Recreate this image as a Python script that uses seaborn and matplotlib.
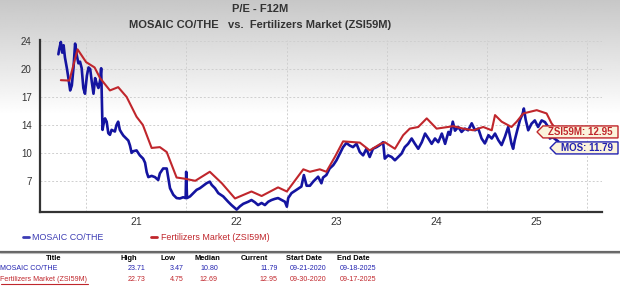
import numpy as np
import pandas as pd
import matplotlib
matplotlib.use("Agg")
import matplotlib.pyplot as plt
from matplotlib.patches import Polygon
from matplotlib.lines import Line2D
import seaborn as sns

# ---------------- data ----------------
mos_dates = [
    '2020-09-21', '2020-09-24', '2020-09-30', '2020-10-05', '2020-10-10', '2020-10-15', '2020-10-22',
    '2020-10-28', '2020-11-03', '2020-11-09', '2020-11-15', '2020-11-21', '2020-11-27', '2020-12-03',
    '2020-12-09', '2020-12-15', '2020-12-21', '2020-12-27', '2021-01-03', '2021-01-09', '2021-01-15',
    '2021-01-21', '2021-01-27', '2021-02-02', '2021-02-08', '2021-02-14', '2021-02-20', '2021-02-24',
    '2021-03-01', '2021-03-04', '2021-03-10', '2021-03-16', '2021-03-22', '2021-03-28', '2021-04-03',
    '2021-04-15', '2021-04-21', '2021-04-27', '2021-05-03', '2021-05-10', '2021-05-16', '2021-05-22',
    '2021-05-28', '2021-06-03', '2021-06-09', '2021-06-15', '2021-06-21', '2021-07-03', '2021-07-15',
    '2021-07-27', '2021-08-03', '2021-08-09', '2021-08-15', '2021-08-27', '2021-09-08', '2021-09-20',
    '2021-09-26', '2021-10-08', '2021-10-21', '2021-10-27', '2021-11-02', '2021-11-14', '2021-11-26',
    '2021-12-08', '2021-12-20', '2021-12-29', '2021-12-31', '2022-01-03', '2022-01-14', '2022-01-26',
    '2022-02-07', '2022-02-19', '2022-03-03', '2022-03-15', '2022-03-27', '2022-04-03', '2022-04-15',
    '2022-04-27', '2022-05-15', '2022-06-02', '2022-06-14', '2022-07-03', '2022-07-15', '2022-07-27',
    '2022-08-14', '2022-08-26', '2022-09-07', '2022-09-19', '2022-10-02', '2022-10-14', '2022-10-26',
    '2022-11-07', '2022-11-19', '2022-12-01', '2022-12-14', '2022-12-26', '2023-01-02', '2023-01-07',
    '2023-01-19', '2023-02-06', '2023-02-24', '2023-03-05', '2023-03-15', '2023-03-27', '2023-04-08',
    '2023-04-20', '2023-04-26', '2023-05-08', '2023-05-14', '2023-05-26', '2023-06-07', '2023-06-20',
    '2023-07-02', '2023-07-14', '2023-07-26', '2023-08-07', '2023-08-19', '2023-08-31', '2023-09-13',
    '2023-09-25', '2023-10-07', '2023-10-19', '2023-10-31', '2023-11-12', '2023-11-25', '2023-12-07',
    '2023-12-19', '2023-12-25', '2024-01-06', '2024-01-19', '2024-01-31', '2024-02-12', '2024-02-24',
    '2024-03-07', '2024-03-19', '2024-04-01', '2024-04-13', '2024-04-25', '2024-05-08', '2024-05-20',
    '2024-06-01', '2024-06-13', '2024-06-25', '2024-07-07', '2024-07-20', '2024-08-01', '2024-08-13',
    '2024-08-19', '2024-08-29', '2024-09-06', '2024-09-18', '2024-09-30', '2024-10-12', '2024-10-24',
    '2024-11-06', '2024-11-18', '2024-11-30', '2024-12-12', '2024-12-24', '2025-01-06', '2025-01-18',
    '2025-01-30', '2025-02-11', '2025-02-23', '2025-03-07', '2025-03-19', '2025-03-25', '2025-03-31',
    '2025-04-06', '2025-04-12', '2025-04-21', '2025-05-01', '2025-05-11', '2025-05-15', '2025-05-22',
    '2025-05-31', '2025-06-12', '2025-06-24', '2025-07-06', '2025-07-19', '2025-07-31', '2025-08-12',
    '2025-08-18', '2025-08-28', '2025-09-18',
]
mos_pe = [
    22.4, 23.0, 23.9, 22.6, 23.5, 22.0, 20.7,
    19.4, 18.0, 18.6, 20.7, 23.7, 22.3, 21.3,
    21.5, 20.7, 18.3, 17.6, 19.8, 20.8, 20.6,
    19.0, 17.6, 19.5, 18.8, 18.3, 19.2, 20.7,
    13.2, 13.8, 14.6, 14.2, 12.8, 12.6, 13.2,
    13.0, 13.8, 14.2, 13.2, 12.8, 12.5, 12.3,
    12.1, 11.9, 11.3, 10.4, 10.6, 10.7, 10.1,
    9.7, 9.2, 8.05, 7.45, 7.6, 7.45, 7.1,
    7.9, 8.5, 8.5, 7.3, 6.1, 5.3, 4.9,
    4.85, 5.0, 4.9, 8.1, 4.9, 5.1, 5.5,
    5.9, 6.1, 6.4, 6.7, 6.9, 6.5, 6.1,
    5.5, 5.1, 4.45, 4.05, 3.5, 3.9, 4.2,
    4.45, 4.66, 4.4, 4.05, 4.3, 4.05, 4.45,
    4.66, 4.8, 4.9, 4.66, 4.45, 3.85, 4.9,
    5.5, 5.9, 6.3, 7.7, 6.4, 6.4, 6.9,
    7.3, 7.5, 6.7, 7.4, 7.7, 8.5, 8.9,
    9.5, 10.3, 11.1, 11.6, 11.3, 11.1, 11.5,
    10.5, 10.1, 10.9, 9.9, 10.9, 11.1, 11.35,
    11.7, 9.7, 10.1, 9.9, 9.5, 9.9, 10.3,
    11.1, 11.5, 12.15, 11.5, 10.9, 11.7, 12.75,
    12.15, 11.5, 12.15, 11.7, 12.75, 11.5, 12.95,
    12.6, 14.2, 13.1, 13.55, 12.95, 13.35, 13.15,
    14.0, 13.15, 13.35, 12.15, 11.55, 12.55, 12.15,
    12.75, 11.95, 11.35, 12.35, 13.55, 12.55, 11.5,
    10.9, 11.95, 13.15, 14.4, 15.2, 15.8, 14.4,
    13.15, 13.95, 14.35, 13.55, 14.35, 14.15, 13.55,
    12.15, 12.3, 11.79,
]

zsi_dates = [
    '2020-09-30', '2020-10-31', '2020-11-30', '2020-12-31', '2021-01-31', '2021-02-20', '2021-03-28',
    '2021-04-27', '2021-05-28', '2021-07-03', '2021-07-26', '2021-08-27', '2021-09-26', '2021-10-21',
    '2021-11-26', '2021-12-27', '2022-02-02', '2022-03-27', '2022-05-10', '2022-06-27', '2022-08-26',
    '2022-10-02', '2022-12-01', '2023-01-02', '2023-03-03', '2023-03-27', '2023-05-02', '2023-05-26',
    '2023-06-26', '2023-07-26', '2023-09-25', '2023-10-31', '2023-12-07', '2023-12-25', '2024-01-31',
    '2024-03-01', '2024-03-25', '2024-04-25', '2024-05-26', '2024-07-01', '2024-08-31', '2024-10-06',
    '2024-11-12', '2024-12-18', '2025-01-18', '2025-01-30', '2025-02-23', '2025-03-31', '2025-04-19',
    '2025-05-13', '2025-07-01', '2025-08-06', '2025-08-24', '2025-09-17',
]
zsi_pe = [
    19.25, 19.2, 23.0, 21.45, 20.8, 19.5, 18.0,
    18.4, 17.2, 14.8, 13.8, 11.0, 11.1, 10.5,
    7.4, 7.25, 7.0, 8.1, 6.7, 4.85, 5.7,
    5.15, 6.2, 5.7, 8.4, 8.1, 8.4, 8.1,
    9.9, 11.8, 11.65, 10.7, 11.45, 11.7, 10.9,
    12.55, 13.35, 13.55, 14.6, 13.35, 13.65, 13.35,
    13.15, 13.55, 13.15, 15.0, 14.2, 13.55, 14.2,
    15.2, 15.6, 15.2, 14.0, 12.95,
]

ytick_labels = ['7', '10', '14', '17', '20', '24']
year_labels = ['21', '22', '23', '24', '25']
series_names = ['MOSAIC CO/THE', 'Fertilizers Market (ZSI59M)']
tag_labels = ['ZSI59M: 12.95', 'MOS: 11.79']
title_lines = ['P/E - F12M', 'MOSAIC CO/THE   vs.  Fertilizers Market (ZSI59M)']
table_header = ['Title', 'High', 'Low', 'Median', 'Current', 'Start Date', 'End Date']
table_rows = [
    ['MOSAIC CO/THE', '23.71', '3.47', '10.80', '11.79', '09-21-2020', '09-18-2025'],
    ['Fertilizers Market (ZSI59M)', '22.73', '4.75', '12.69', '12.95', '09-30-2020', '09-17-2025'],
]

# ---------------- style ----------------
sns.set_style("white")
plt.rcParams['font.family'] = ['Liberation Sans', 'DejaVu Sans']

BLUE = '#1414a0'
RED = '#c0262c'
TXT = '#333333'
W, H = 620, 295

fig = plt.figure(figsize=(W / 100, H / 100), dpi=100)

# background gradient (gray at top fading to white)
bg = fig.add_axes([0, 0, 1, 1], zorder=-10)
rows = np.arange(H)
shade = 0.78 + 0.22 * np.clip(rows / 115.0, 0, 1)
bg.imshow(np.tile(shade[:, None], (1, 4)), cmap='gray', vmin=0, vmax=1,
          aspect='auto', extent=[0, 1, 0, 1], interpolation='bilinear')
bg.set_axis_off()
bg.add_patch(plt.Rectangle((0, 0), 1, 1 - 246 / H, color='white', transform=bg.transAxes))


def fx(px):
    return px / W


def fy(py):
    return 1 - py / H


ax = fig.add_axes([fx(40), fy(211.7), (602 - 40) / W, (211.7 - 39.5) / H])
ax.patch.set_alpha(0)

df_mos = pd.DataFrame({'date': pd.to_datetime(mos_dates), 'pe': mos_pe})
df_zsi = pd.DataFrame({'date': pd.to_datetime(zsi_dates), 'pe': zsi_pe})

sns.lineplot(data=df_mos, x='date', y='pe', ax=ax, color=BLUE, lw=1.9, zorder=3, legend=False)
sns.lineplot(data=df_zsi, x='date', y='pe', ax=ax, color=RED, lw=1.5, zorder=4, legend=False)

ax.set_xlim(pd.Timestamp('2020-07-16'), pd.Timestamp('2026-02-24'))
ax.set_ylim(3.24, 24.2)
ax.set_xlabel('')
ax.set_ylabel('')

# y axis: evenly spaced ticks with rounded labels
ax.set_yticks(np.linspace(7, 24, len(ytick_labels)))
ax.set_yticklabels(ytick_labels)
ax.tick_params(axis='y', length=3, width=1, color=TXT, labelsize=7, labelcolor=TXT, pad=3)

# x axis: grid at year starts, labels mid-year
first_year = 2000 + int(year_labels[0])
ax.set_xticks([pd.Timestamp(f'{y}-01-01') for y in range(first_year, first_year + len(year_labels) + 1)])
ax.set_xticklabels([])
ax.set_xticks([pd.Timestamp(f'20{l}-07-01') for l in year_labels], minor=True)
ax.set_xticklabels(year_labels, minor=True)
ax.tick_params(axis='x', which='both', length=0, labelsize=7.5, labelcolor=TXT, pad=4)

ax.grid(False)
ax.yaxis.grid(True, color='#cfcfcf', lw=0.7, ls=(0, (2, 2)))
ax.xaxis.grid(True, which='major', color='#cfcfcf', lw=0.7, ls=(0, (2, 2)))

for s in ['top', 'right']:
    ax.spines[s].set_visible(False)
for s in ['left', 'bottom']:
    ax.spines[s].set_color(TXT)
    ax.spines[s].set_linewidth(1.6)

# titles
fig.text(fx(260), fy(8.5), title_lines[0], ha='center', va='center', fontsize=8, weight='bold', color=TXT)
fig.text(fx(260), fy(25), title_lines[1], ha='center', va='center', fontsize=8, weight='bold', color=TXT)

# legend below the chart
leg_y = fy(237)
fig.add_artist(Line2D([fx(23), fx(29)], [leg_y, leg_y], color='#3c3cb4', lw=2, transform=fig.transFigure))
fig.text(fx(32), leg_y, series_names[0], ha='left', va='center', fontsize=6.4, color='#3c3cb4')
fig.add_artist(Line2D([fx(151), fx(157)], [leg_y, leg_y], color=RED, lw=2, transform=fig.transFigure))
fig.text(fx(161), leg_y, series_names[1], ha='left', va='center', fontsize=6.4, color=RED)

# table
fig.add_artist(Line2D([0, 1], [fy(251.5), fy(251.5)], color='#666666', lw=1.6, transform=fig.transFigure))
fig.add_artist(Line2D([0, 1], [fy(253), fy(253)], color='#bbbbbb', lw=0.8, transform=fig.transFigure))
head_x = [54, 129, 168, 207, 254, 304, 353]
val_right = [None, 146, 184, 218, 278, 327, 376]
for hx, h in zip(head_x, table_header):
    fig.text(fx(hx), fy(259), h, ha='center', va='center', fontsize=5.4, weight='bold', color='black')
row_colors = ['#2323b0', RED]
row_ys = [269, 279.3]
title_texts = []
for row, col, ry in zip(table_rows, row_colors, row_ys):
    t = fig.text(fx(0.5), fy(ry), row[0], ha='left', va='center', fontsize=5.1, color=col)
    title_texts.append(t)
    for vr, v in zip(val_right[1:], row[1:]):
        fig.text(fx(vr), fy(ry), v, ha='right', va='center', fontsize=5.1, color=col)

fig.canvas.draw()
renderer = fig.canvas.get_renderer()
bb = title_texts[1].get_window_extent(renderer)
uy = (bb.y0 - 1) / H
fig.add_artist(Line2D([bb.x0 / W, bb.x1 / W], [uy, uy], color=RED, lw=0.8, transform=fig.transFigure))

# end-value tags
y_zsi = ax.transData.transform((0, zsi_pe[-1]))[1]
y_mos = y_zsi - 16


def tag(tip_x, ymid, text, col):
    h = 6
    pts = [(tip_x, ymid), (tip_x + 6, ymid + h), (618, ymid + h), (618, ymid - h), (tip_x + 6, ymid - h)]
    pts = [(px / W, py / H) for px, py in pts]
    fig.add_artist(Polygon(pts, closed=True, facecolor='#fbf3dc', edgecolor=col, lw=1.0,
                           transform=fig.transFigure, zorder=10))
    fig.text((tip_x + 6 + 618) / 2 / W, ymid / H, text, ha='center', va='center', fontsize=7,
             weight='bold', color=col, zorder=11)


tag(537, y_zsi, tag_labels[0], RED)
tag(550, y_mos, tag_labels[1], '#2323b0')

fig.savefig('out.png', dpi=100)
